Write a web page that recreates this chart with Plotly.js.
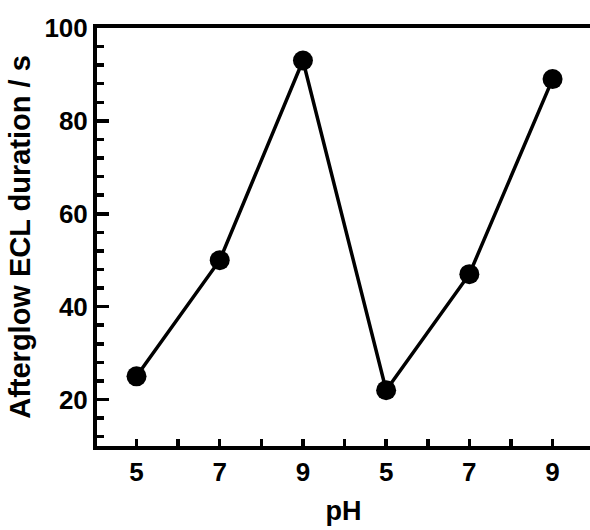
<!DOCTYPE html>
<html>
<head>
<meta charset="utf-8">
<script src="https://cdn.plot.ly/plotly-3.0.1.min.js"></script>
<style>html,body{margin:0;padding:0;background:#fff;}#chart{width:590px;height:530px;}</style>
</head>
<body>
<div id="chart"></div>
<script>
// Data
const positions = [1, 3, 5, 7, 9, 11];
const phLabels = ["5", "7", "9", "5", "7", "9"];
const durations = [25, 50, 93, 22, 47, 89];
const majorXTicks = [1, 6, 11];

const fontFam = "Liberation Sans, Arial, sans-serif";

const trace = {
  x: positions,
  y: durations,
  mode: "lines+markers",
  type: "scatter",
  line: {color: "#000", width: 3.5},
  marker: {color: "#000", size: 20},
  showlegend: false,
  cliponaxis: false
};

const layout = {
  width: 590, height: 530,
  margin: {l: 97, r: 0, t: 28, b: 84},
  paper_bgcolor: "#fff", plot_bgcolor: "#fff",
  font: {family: fontFam, color: "#000", size: 20, weight: "bold"},
  xaxis: {
    range: [0.05, 11.9],
    tickmode: "array", tickvals: positions, ticktext: phLabels,
    ticks: "inside", ticklen: 7, tickwidth: 3.5, tickcolor: "#000",
    minor: {tickmode: "linear", tick0: 0, dtick: 1, ticks: "inside", ticklen: 7, tickwidth: 3.5, tickcolor: "#000", showgrid: false},
    showline: true, linewidth: 4, linecolor: "#000", mirror: true,
    showgrid: false, zeroline: false,
    tickfont: {family: fontFam, size: 26, weight: "bold"},
    title: {text: "pH", font: {family: fontFam, size: 27, weight: "bold"}, standoff: 16}
  },
  xaxis2: {
    overlaying: "x", matches: "x", anchor: "y", side: "bottom",
    range: [0.05, 11.9],
    tickmode: "array", tickvals: majorXTicks, showticklabels: false,
    ticks: "inside", ticklen: 12, tickwidth: 3.5, tickcolor: "#000",
    showline: false, showgrid: false, zeroline: false
  },
  yaxis: {
    range: [10, 100],
    tickmode: "linear", tick0: 0, dtick: 20,
    ticks: "inside", ticklen: 12, tickwidth: 3.5, tickcolor: "#000",
    minor: {tickmode: "linear", tick0: 0, dtick: 4, ticks: "inside", ticklen: 7, tickwidth: 3.5, tickcolor: "#000", showgrid: false},
    showline: true, linewidth: 4, linecolor: "#000",
    showgrid: false, zeroline: false,
    tickfont: {family: fontFam, size: 26, weight: "bold"},
    title: {text: "Afterglow ECL duration / s", font: {family: fontFam, size: 29, weight: "bold"}, standoff: 6}
  }
};

Plotly.newPlot("chart", [trace], layout, {displayModeBar: false, staticPlot: true});
</script>
</body>
</html>
